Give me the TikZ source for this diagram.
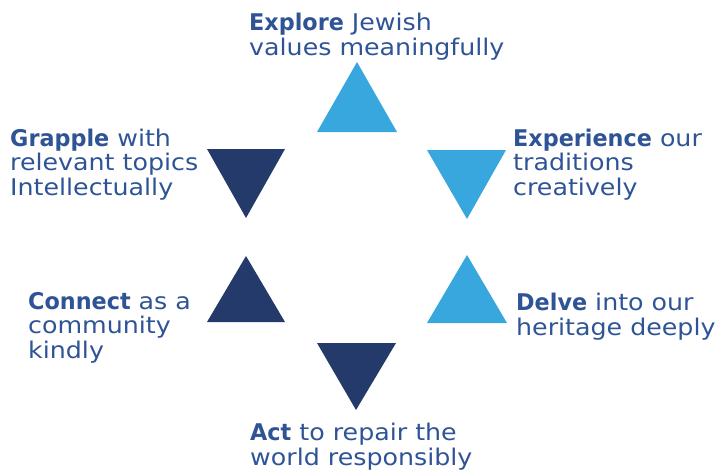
\documentclass[tikz,border=0pt]{standalone}
\usepackage{fontspec}
\setmainfont{DejaVu Sans}[FakeStretch=1.1, BoldFeatures={FakeStretch=0.97}]
\definecolor{lightblue}{HTML}{38A7DD}
\definecolor{darkblue}{HTML}{233A6A}
\definecolor{textblue}{HTML}{2F5496}
\tikzset{
  value/.style={anchor=base west, align=left, text=textblue, inner sep=0pt,
    font=\fontsize{23}{24.5}\selectfont},
}
\begin{document}
\begin{tikzpicture}[x=1pt, y=-1pt]
\useasboundingbox (0,0) rectangle (719,474);
% triangles
\fill[lightblue] (317,132) -- (397,132) -- (357,62) -- cycle;
\fill[lightblue] (427,150) -- (506,150) -- (467,219) -- cycle;
\fill[lightblue] (427,323) -- (507,323) -- (467,255) -- cycle;
\fill[darkblue] (317,343) -- (396,343) -- (356,410) -- cycle;
\fill[darkblue] (207,322) -- (285,322) -- (246,256) -- cycle;
\fill[darkblue] (207,149) -- (285,149) -- (246,218) -- cycle;
% labels (anchored at the last baseline)
\node[value] (explore) at (249,55) {\textbf{Explore} Jewish\\values meaningfully};
\node[value] (grapple) at (10,195) {\textbf{Grapple} with\\relevant topics\\Intellectually};
\node[value] (experience) at (513,195) {\textbf{Experience} our\\traditions\\creatively};
\node[value] (connect) at (28,358) {\textbf{Connect} as a\\community\\kindly};
\node[value] (delve) at (516,335) {\textbf{Delve} into our\\heritage deeply};
\node[value] (act) at (250,465) {\textbf{Act} to repair the\\world responsibly};
\end{tikzpicture}
\end{document}
